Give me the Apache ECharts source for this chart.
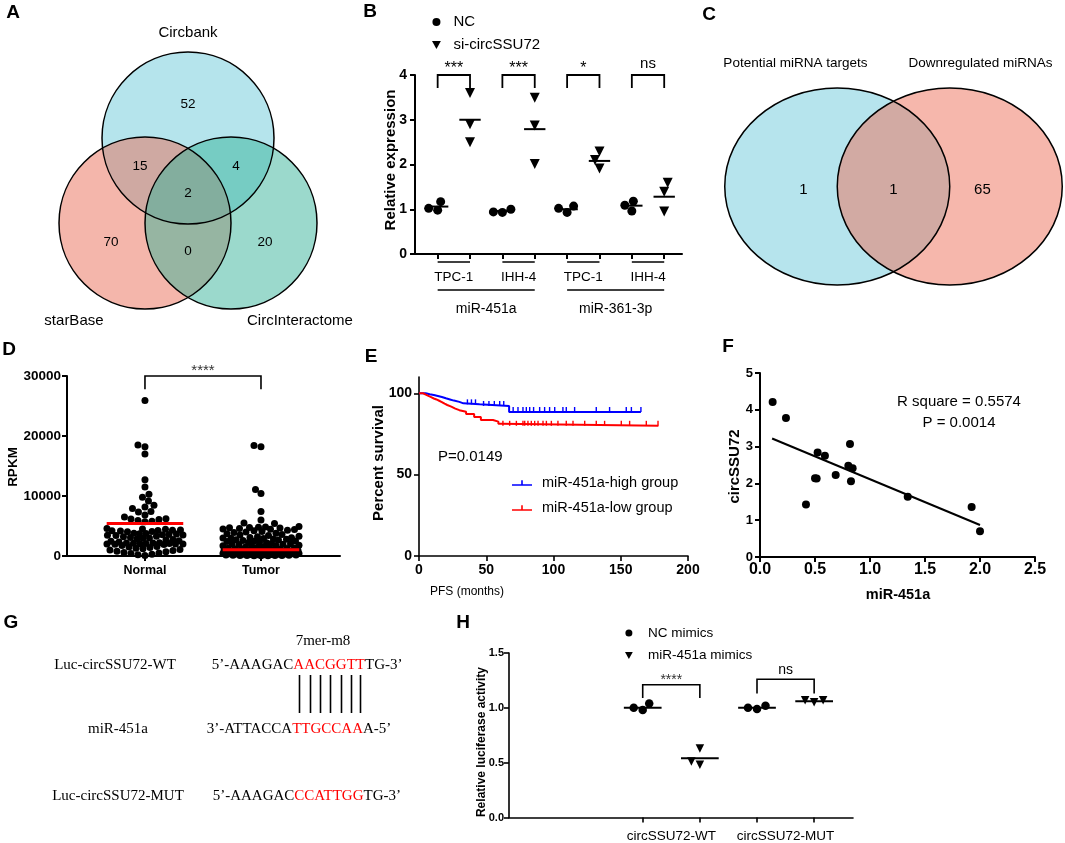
<!DOCTYPE html>
<html><head><meta charset="utf-8">
<script src="https://cdn.jsdelivr.net/npm/echarts@6.0.0/dist/echarts.min.js"></script>
<style>html,body{margin:0;padding:0;background:#fff}#c{width:1065px;height:843px}</style>
</head><body><div id="c"></div>
<script>
// ================= DATA =================
// A: Venn
const vennASets = ['Circbank', 'starBase', 'CircInteractome'];
const vennACounts = [52, 15, 4, 2, 70, 0, 20];
// C: Venn
const vennCSets = ['Potential miRNA targets', 'Downregulated miRNAs'];
const vennCCounts = [1, 1, 65];
// B: relative expression
const bLegend = ['NC', 'si-circSSU72'];
const bCells = ['TPC-1', 'IHH-4', 'TPC-1', 'IHH-4'];
const bGroups = ['miR-451a', 'miR-361-3p'];
const bNC = [[1.17, 0.98, 1.02], [1.00, 0.93, 0.94], [1.07, 0.93, 1.02], [1.18, 0.96, 1.09]];
const bSi = [[3.60, 2.90, 2.50], [3.49, 2.87, 2.01], [1.91, 2.29, 2.10], [1.59, 0.95, 1.39]];
const bMeanNC = [1.06, 0.96, 1.00, 1.08];
const bMeanSi = [3.00, 2.79, 2.08, 1.28];
const bSig = ['***', '***', '*', 'ns'];
// D: RPKM
const dCats = ['Normal', 'Tumor'];
const dNormal = [25900, 18500, 18200, 17000, 12700, 11500, 10300, 9800, 9150, 8450, 8150, 7900, 7400, 7350,
  6850, 6500, 6200, 6150, 6100, 5900, 5800, 5700,
  4600, 4500, 4450, 4350, 4300, 4250, 4200, 4150, 4100, 4050,
  3800, 3750, 3700, 3650, 3600, 3550, 3500, 3450, 3400, 3300, 3200, 3100, 3000, 2950, 2850, 2750, 2650, 2550, 2450, 2350,
  2200, 2180, 2150, 2120, 2100, 2080, 2050, 2020, 2000, 1980, 1950, 1920,
  1750, 1600, 1500, 1400, 1300, 1200, 1100, 1000, 900, 800, 700, 600, 500, 400, 300, 200, 100];
const dTumor = [18400, 18200, 11100, 10400, 7400, 6000, 5500, 5400,
  4900, 4850, 4800, 4750, 4700, 4650, 4600, 4500, 4450, 4400, 4300, 4200,
  4100, 4000, 3900, 3800, 3700, 3600, 3500, 3400, 3300, 3200, 3100, 3050, 3000, 2950,
  2900, 2850, 2800, 2700, 2650, 2600, 2500, 2450, 2400, 2300, 2250, 2200, 2100, 2050, 2000, 1950, 1900,
  1800, 1750, 1700, 1600, 1550, 1500, 1450, 1400, 1350, 1300, 1250, 1200, 1150, 1100, 1050,
  1000, 980, 950, 930, 900, 880, 850, 830, 800, 780, 760, 740, 720, 700, 680, 660, 640, 620, 600, 580,
  560, 540, 520, 500, 480, 460, 440, 420, 400, 380, 360, 340, 320, 300, 280, 260, 240, 220, 200, 180,
  160, 140, 120, 100, 90, 80, 70, 60, 50, 40];
const dLines = [5400, 1050];
const dSig = '****';
// E: Kaplan-Meier
const eNames = ['miR-451a-high group', 'miR-451a-low group'];
const eHighT = [0, 5, 8, 11, 14, 17, 20, 23, 26, 30, 33, 45, 67, 165];
const eHighS = [100, 99.4, 98.9, 98.3, 97.7, 96.9, 96.2, 95.5, 94.7, 93.8, 93.2, 92.2, 88.5, 88.5];
const eLowT = [0, 3, 5, 7, 9, 11, 13, 15, 17, 19, 21, 24, 27, 30, 35, 41, 46, 55, 59, 61, 178];
const eLowS = [100, 99.2, 98.4, 97.6, 96.8, 96.2, 95.4, 94.6, 93.6, 92.8, 91.8, 90.6, 89.6, 88.6, 87.2, 85.4, 83.6, 82.6, 81.2, 80, 80];
const eHighCens = [36, 39, 42, 48, 52, 56, 60, 63, 70, 73.6, 77.3, 79.8, 82.3, 85.2, 89.7, 93.4, 97.1, 100.9, 107, 109.5, 115.7, 131.8, 141.7, 154.1, 157.9, 165];
const eLowCens = [62.4, 67.4, 72.4, 77.3, 78.6, 81, 83.5, 86, 88.5, 92.2, 94.7, 98.4, 103.3, 109.5, 114.5, 123.2, 131.8, 138, 150.4, 156.6, 169, 177.7];
const eP = 'P=0.0149';
// F: correlation
const fX = [0.115, 0.236, 0.418, 0.50, 0.515, 0.524, 0.59, 0.688, 0.818, 0.803, 0.842, 0.827, 1.343, 1.924, 2.00];
const fY = [4.21, 3.78, 1.43, 2.14, 2.13, 2.84, 2.75, 2.23, 3.07, 2.48, 2.41, 2.06, 1.64, 1.36, 0.70];
const fFit = [[0.11, 3.22], [2.00, 0.87]];
const fStats = ['R square = 0.5574', 'P = 0.0014'];
// G: sequences
const gLabels = ['Luc-circSSU72-WT', 'miR-451a', 'Luc-circSSU72-MUT'];
const gSeqs = [['5\u2019-AAAGAC', 'AACGGTT', 'TG-3\u2019'], ['3\u2019-ATTACCA', 'TTGCCAA', 'A-5\u2019'], ['5\u2019-AAAGAC', 'CCATTGG', 'TG-3\u2019']];
const gSite = '7mer-m8';
// H: luciferase
const hLegend = ['NC mimics', 'miR-451a mimics'];
const hCats = ['circSSU72-WT', 'circSSU72-MUT'];
const hNC = [[1.04, 0.98, 1.00], [1.02, 0.99, 1.00]];
const hMi = [[0.63, 0.48, 0.51], [1.07, 1.05, 1.07]];
const hMeanNC = [1.00, 1.00];
const hMeanMi = [0.54, 1.06];
const hSig = ['****', 'ns'];

// ================= LAYOUT =================
const FONT = '"Liberation Sans", Arial, sans-serif';
const SERIF = '"Liberation Serif", "Times New Roman", serif';
const G = {
  A: {left: 16, top: 9, width: 344, height: 344},
  C: {left: 758.5, top: 68.3, width: 270, height: 236.4},
  B: {left: 415, top: 75, width: 267, height: 179},
  D: {left: 67, top: 376, width: 273, height: 180},
  E: {left: 419, top: 377, width: 269, height: 179},
  F: {left: 760, top: 373, width: 275, height: 184},
  H: {left: 509, top: 653, width: 344, height: 164.5}
};
const R = {B: [0.3, 8.55], D: [0.328, 2.681], H: [-1.34, 4.68]};
const vennACircles = [[0, 0.5, 1], [-0.5, -0.488, 1], [0.5, -0.488, 1]];
const vennAColors = ['rgba(107,201,217,0.5)', 'rgba(233,109,87,0.5)', 'rgba(55,179,153,0.5)'];
const vennANumPos = [[0, 0.895], [-0.558, 0.174], [0.558, 0.174], [0, -0.14], [-0.895, -0.709], [0, -0.814], [0.895, -0.709]];
const vennASetPos = [[0, 1.72], [-1.326, -1.628], [1.302, -1.628]];
const vennCCircles = [[-0.5, 0, 1], [0.5, 0, 1]];
const vennCColors = ['rgba(109,201,219,0.5)', 'rgba(237,111,89,0.5)'];
const vennCNumPos = [[-0.80, -0.036], [0, -0.036], [0.79, -0.036]];
const vennCSetPos = [[-0.872, 1.254], [0.774, 1.254]];

// ================= HELPERS =================
function swarm(values, center, pxY, pxX, diam, maxHalf) {
  const order = values.map((v, i) => i).sort((a, b) => values[a] - values[b] || a - b);
  const step = 0.5, n = Math.floor(maxHalf / step);
  const candP = [0], candN = [0];
  for (let k = 1; k <= n; k++) { candP.push(k * step, -k * step); candN.push(-k * step, k * step); }
  const placed = [], res = new Array(values.length);
  for (const i of order) {
    const y = values[i] * pxY;
    const cand = placed.length % 2 ? candN : candP;
    let chosen = null;
    for (const off of cand) {
      let ok = true;
      for (const q of placed) { const dx = q[0] - off, dy = q[1] - y; if (dx * dx + dy * dy < diam * diam) { ok = false; break; } }
      if (ok) { chosen = off; break; }
    }
    if (chosen === null) {
      let best = -1;
      for (const off of cand) {
        let m = Infinity;
        for (const q of placed) { const dx = q[0] - off, dy = q[1] - y; const d = dx * dx + dy * dy; if (d < m) m = d; }
        if (m > best + 1e-9) { best = m; chosen = off; }
      }
    }
    placed.push([chosen, y]);
    res[i] = [center + chosen / pxX, values[i]];
  }
  return res;
}
function stepAt(t, T, S) { let v = S[0]; for (let i = 0; i < T.length; i++) if (T[i] <= t) v = S[i]; return v; }

function axis(o) {
  const lw = o.lw || 2;
  const a = {
    type: 'value', gridIndex: o.grid, min: o.min, max: o.max,
    splitLine: {show: false},
    axisLine: {show: true, onZero: false, lineStyle: {color: '#000', width: lw}},
    axisTick: {show: true, inside: false, length: o.tickLen || 5, lineStyle: {color: '#000', width: lw}},
    axisLabel: {show: true, color: '#000', fontFamily: FONT, fontWeight: o.bold === false ? 'normal' : 'bold', fontSize: o.fs || 13, margin: o.margin || 7,
      formatter: v => String(v)},
    axisPointer: {show: false}
  };
  if (o.interval !== undefined) a.interval = o.interval;
  if (o.ticks) a.axisTick.customValues = o.ticks;
  if (o.labels) a.axisLabel.customValues = o.labels;
  if (o.fmt) a.axisLabel.formatter = o.fmt;
  return a;
}
function hidden(grid, min, max) { return {type: 'value', gridIndex: grid, min, max, show: false}; }

function vennSeries(grid, circles, colors, mode) {
  return {
    type: 'custom', xAxisIndex: grid, yAxisIndex: grid, clip: false, silent: true, z: mode === 'fill' ? 1 : 2,
    data: circles,
    renderItem: (p, api) => {
      const c = api.coord([api.value(0), api.value(1)]);
      const s = api.size([api.value(2), api.value(2)]);
      return {type: 'ellipse', shape: {cx: c[0], cy: c[1], rx: s[0], ry: s[1]},
        style: mode === 'fill' ? {fill: colors[p.dataIndex], stroke: null} : {fill: 'none', stroke: '#000', lineWidth: 1.5}};
    }
  };
}
function textSeries(grid, pts, texts, font) {
  return {
    type: 'custom', xAxisIndex: grid, yAxisIndex: grid, clip: false, silent: true, z: 5, data: pts,
    renderItem: (p, api) => {
      const c = api.coord([api.value(0), api.value(1)]);
      return {type: 'text', x: c[0], y: c[1], style: {text: String(texts[p.dataIndex]), font, fill: '#000',
        align: 'center', verticalAlign: 'middle', textAlign: 'center', textVerticalAlign: 'middle'}};
    }
  };
}
function meanSeries(grid, data, hw, color, lw) {
  return {
    type: 'custom', xAxisIndex: grid, yAxisIndex: grid, clip: false, silent: true, z: 4, data,
    renderItem: (p, api) => {
      const a = api.coord([api.value(0) - hw, api.value(1)]), b = api.coord([api.value(0) + hw, api.value(1)]);
      return {type: 'line', shape: {x1: a[0], y1: a[1], x2: b[0], y2: b[1]}, style: {stroke: color, lineWidth: lw}};
    }
  };
}
function bracketSeries(grid, data, labels, o) {
  return {
    type: 'custom', xAxisIndex: grid, yAxisIndex: grid, clip: false, silent: true, z: 5, data,
    renderItem: (p, api) => {
      const x1 = api.value(0), x2 = api.value(1), top = api.value(2), leg = api.value(3);
      const a = api.coord([x1, leg]), b = api.coord([x1, top]), c = api.coord([x2, top]), d = api.coord([x2, leg]);
      const lbl = labels[p.dataIndex];
      const star = /^\*+$/.test(lbl);
      return {type: 'group', children: [
        {type: 'polyline', shape: {points: [a, b, c, d]}, style: {stroke: '#000', lineWidth: o.lw, fill: 'none'}},
        {type: 'text', x: (b[0] + c[0]) / 2, y: b[1] + (star ? o.starOff : o.textOff),
          style: {text: lbl, font: (star ? o.starFont : o.textFont) + 'px ' + FONT, fill: star ? o.starColor : '#000',
            align: 'center', verticalAlign: 'middle', textAlign: 'center', textVerticalAlign: 'middle'}}
      ]};
    }
  };
}

// ================= BUILD =================
const pxYB = G.B.height / 4, pxXB = G.B.width / (R.B[1] - R.B[0]);
const pxYD = G.D.height / 30000, pxXD = G.D.width / (R.D[1] - R.D[0]);
const pxYH = G.H.height / 1.5, pxXH = G.H.width / (R.H[1] - R.H[0]);

const bNCpts = bNC.flatMap((v, g) => swarm(v, 2 * g + 1, pxYB, pxXB, 9, 12));
const bSipts = bSi.flatMap((v, g) => swarm(v, 2 * g + 2, pxYB, pxXB, 9.5, 12));
const bMeans = bMeanNC.map((m, g) => [2 * g + 1, m]).concat(bMeanSi.map((m, g) => [2 * g + 2, m]));
const bBrackets = bSig.map((s, g) => [2 * g + 1, 2 * g + 2, 4.0, 3.71]);
const bAnno = bCells.map((c, g) => [2 * g + 1, 2 * g + 2, 0]).concat(bGroups.map((c, k) => [4 * k + 1, 4 * k + 4, 1]));

const dPts = swarm(dNormal, 1, pxYD, pxXD, 6.8, 38).concat(swarm(dTumor, 2, pxYD, pxXD, 6.8, 38));
const hNCpts = hNC.flatMap((v, g) => swarm(v, 2 * g + 1, pxYH, pxXH, 9, 14));
const hMipts = hMi.flatMap((v, g) => swarm(v, 2 * g + 2, pxYH, pxXH, 9, 14));
const hMeans = hMeanNC.map((m, g) => [2 * g + 1, m]).concat(hMeanMi.map((m, g) => [2 * g + 2, m]));

const bLabelPos = [1.5, 3.5, 5.5, 7.5];
const hLabelPos = [1.5, 3.5];

const grids = [G.A, G.C, G.B, G.D, G.E, G.F, G.H].map(g => Object.assign({outerBoundsMode: 'none', containLabel: false, show: false}, g));

const xAxes = [
  hidden(0, -2, 2), hidden(1, -1.2, 1.2),
  axis({grid: 2, min: R.B[0], max: R.B[1], ticks: [1, 2, 3, 4, 5, 6, 7, 8], labels: bLabelPos, bold: false, fs: 13.5, margin: 16,
    fmt: v => bCells[bLabelPos.indexOf(v)] || ''}),
  axis({grid: 3, min: R.D[0], max: R.D[1], ticks: [1, 2], labels: [1, 2], fs: 12.5, margin: 8, fmt: v => dCats[v - 1] || ''}),
  axis({grid: 4, min: 0, max: 200, interval: 50, fs: 14, margin: 7, lw: 1.6}),
  axis({grid: 5, min: 0, max: 2.5, interval: 0.5, fs: 16, margin: 5, fmt: v => v.toFixed(1)}),
  axis({grid: 6, min: R.H[0], max: R.H[1], ticks: [1, 2, 3, 4], labels: hLabelPos, bold: false, fs: 13.5, margin: 12, lw: 1.6,
    fmt: v => hCats[hLabelPos.indexOf(v)] || ''})
];
const yAxes = [
  hidden(0, -2, 2), hidden(1, -1.2, 1.2),
  axis({grid: 2, min: 0, max: 4, interval: 1, fs: 14, margin: 8}),
  axis({grid: 3, min: 0, max: 30000, interval: 10000, fs: 13.5, margin: 6}),
  axis({grid: 4, min: 0, max: 110, ticks: [0, 50, 100], labels: [0, 50, 100], fs: 14, margin: 7, lw: 1.6}),
  axis({grid: 5, min: 0, max: 5, interval: 1, fs: 13, margin: 7}),
  axis({grid: 6, min: 0, max: 1.5, interval: 0.5, fs: 11, margin: 5, lw: 1.6, fmt: v => v.toFixed(1)})
];

const solid = c => ({color: c, opacity: 1});
const series = [
  // A
  vennSeries(0, vennACircles, vennAColors, 'fill'),
  vennSeries(0, vennACircles, vennAColors, 'stroke'),
  textSeries(0, vennANumPos, vennACounts, '13.5px ' + FONT),
  textSeries(0, vennASetPos, vennASets, '15px ' + FONT),
  // C
  vennSeries(1, vennCCircles, vennCColors, 'fill'),
  vennSeries(1, vennCCircles, vennCColors, 'stroke'),
  textSeries(1, vennCNumPos, vennCCounts, '15px ' + FONT),
  textSeries(1, vennCSetPos, vennCSets, '13.5px ' + FONT),
  // B
  {name: bLegend[0], type: 'scatter', xAxisIndex: 2, yAxisIndex: 2, data: bNCpts, symbol: 'circle', symbolSize: 9, itemStyle: solid('#000'), z: 3},
  {name: bLegend[1], type: 'scatter', xAxisIndex: 2, yAxisIndex: 2, data: bSipts, symbol: 'triangle', symbolRotate: 180, symbolSize: 10, itemStyle: solid('#000'), z: 3},
  meanSeries(2, bMeans, 0.33, '#000', 2),
  bracketSeries(2, bBrackets, bSig, {lw: 1.8, starOff: -6, textOff: -11, starFont: 16, textFont: 15, starColor: '#000'}),
  {
    type: 'custom', xAxisIndex: 2, yAxisIndex: 2, clip: false, silent: true, data: bAnno,
    renderItem: (p, api) => {
      const a = api.coord([api.value(0), 0]), b = api.coord([api.value(1), 0]);
      if (api.value(2) === 0) {
        return {type: 'line', shape: {x1: a[0], y1: a[1] + 8, x2: b[0], y2: b[1] + 8}, style: {stroke: '#000', lineWidth: 1.6}};
      }
      const k = p.dataIndex - bCells.length;
      return {type: 'group', children: [
        {type: 'line', shape: {x1: a[0], y1: a[1] + 36, x2: b[0], y2: b[1] + 36}, style: {stroke: '#000', lineWidth: 1.6}},
        {type: 'text', x: (a[0] + b[0]) / 2, y: a[1] + 55, style: {text: bGroups[k], font: '14px ' + FONT, fill: '#000',
          align: 'center', verticalAlign: 'middle', textAlign: 'center', textVerticalAlign: 'middle'}}
      ]};
    }
  },
  // D
  {type: 'scatter', xAxisIndex: 3, yAxisIndex: 3, data: dPts, symbol: 'circle', symbolSize: 7, itemStyle: solid('#000'), z: 3},
  meanSeries(3, dLines.map((v, i) => [i + 1, v]), 0.33, '#ff0000', 3),
  bracketSeries(3, [[1, 2, 30000, 27800]], [dSig], {lw: 1.6, starOff: -5, textOff: -10, starFont: 15, textFont: 14, starColor: '#333'}),
  // E
  {name: eNames[0], type: 'line', xAxisIndex: 4, yAxisIndex: 4, step: 'end', symbol: 'none', data: eHighT.map((t, i) => [t, eHighS[i]]),
    lineStyle: {color: '#0000ff', width: 2}, itemStyle: solid('#0000ff'), z: 3},
  {name: eNames[1], type: 'line', xAxisIndex: 4, yAxisIndex: 4, step: 'end', symbol: 'none', data: eLowT.map((t, i) => [t, eLowS[i]]),
    lineStyle: {color: '#ff0000', width: 2}, itemStyle: solid('#ff0000'), z: 3},
  {type: 'scatter', xAxisIndex: 4, yAxisIndex: 4, symbol: 'rect', symbolSize: [1.4, 5], symbolOffset: [0, -2.5], itemStyle: solid('#0000ff'), z: 4,
    data: eHighCens.map(t => [t, stepAt(t, eHighT, eHighS)])},
  {type: 'scatter', xAxisIndex: 4, yAxisIndex: 4, symbol: 'rect', symbolSize: [1.4, 5], symbolOffset: [0, -2.5], itemStyle: solid('#ff0000'), z: 4,
    data: eLowCens.map(t => [t, stepAt(t, eLowT, eLowS)])},
  // F
  {type: 'scatter', xAxisIndex: 5, yAxisIndex: 5, data: fX.map((x, i) => [x, fY[i]]), symbol: 'circle', symbolSize: 8, itemStyle: solid('#000'), z: 3},
  {type: 'line', xAxisIndex: 5, yAxisIndex: 5, data: fFit, symbol: 'none', lineStyle: {color: '#000', width: 2}, z: 2},
  // H
  {name: hLegend[0], type: 'scatter', xAxisIndex: 6, yAxisIndex: 6, data: hNCpts, symbol: 'circle', symbolSize: 8.5, itemStyle: solid('#000'), z: 3},
  {name: hLegend[1], type: 'scatter', xAxisIndex: 6, yAxisIndex: 6, data: hMipts, symbol: 'triangle', symbolRotate: 180, symbolSize: 8.5, itemStyle: solid('#000'), z: 3},
  meanSeries(6, hMeans, 0.33, '#000', 2),
  bracketSeries(6, [[1, 2, 1.21, 1.09], [3, 4, 1.26, 1.13]], hSig, {lw: 1.6, starOff: -4.5, textOff: -9.5, starFont: 14, textFont: 14, starColor: '#333'})
];

const triPath = 'path://M0,0 L10,0 L5,9 Z';
const kmIcon = 'path://M0,6 L20,6 L20,7.6 L0,7.6 Z M9.2,2 L10.8,2 L10.8,6 L9.2,6 Z';
const legends = [
  {left: 432, top: 14.5, orient: 'vertical', padding: 0, itemWidth: 24, itemHeight: 8, itemGap: 8, selectedMode: false,
    data: [{name: bLegend[0], icon: 'circle'}, {name: bLegend[1], icon: triPath}],
    textStyle: {fontSize: 15, fontFamily: FONT, color: '#000'}},
  {left: 512, top: 475.5, orient: 'vertical', padding: 0, itemWidth: 20, itemHeight: 6, itemGap: 10, selectedMode: false,
    data: [{name: eNames[0], icon: kmIcon}, {name: eNames[1], icon: kmIcon}],
    textStyle: {fontSize: 14.5, fontFamily: FONT, color: '#000', padding: [0, 0, 0, 5]}},
  {left: 625, top: 626, orient: 'vertical', padding: 0, itemWidth: 28, itemHeight: 7, itemGap: 8.5, selectedMode: false,
    data: [{name: hLegend[0], icon: 'circle'}, {name: hLegend[1], icon: triPath}],
    textStyle: {fontSize: 13.5, fontFamily: FONT, color: '#000'}}
];

// ---- graphic texts ----
function txt(t, x, y, font, opt) {
  opt = opt || {};
  return {type: 'text', x, y, rotation: opt.rot || 0, silent: true, z: 10,
    style: {text: t, font, fill: opt.fill || '#000', align: opt.align || 'center', verticalAlign: 'middle',
      textAlign: opt.align || 'center', textVerticalAlign: 'middle', rich: opt.rich}};
}
const graphics = [];
[['A', 13, 13], ['B', 370, 12], ['C', 709, 15], ['D', 9, 350], ['E', 371, 357], ['F', 728, 347], ['G', 11, 623], ['H', 463, 623]]
  .forEach(l => graphics.push(txt(l[0], l[1], l[2], 'bold 19px ' + FONT)));
const ROT = Math.PI / 2;
graphics.push(txt('Relative expression', 391, 160, 'bold 15px ' + FONT, {rot: ROT}));
graphics.push(txt('RPKM', 13, 467, 'bold 13.5px ' + FONT, {rot: ROT}));
graphics.push(txt('Percent survival', 378.5, 463, 'bold 15px ' + FONT, {rot: ROT}));
graphics.push(txt('circSSU72', 735, 466.5, 'bold 15px ' + FONT, {rot: ROT}));
graphics.push(txt('Relative luciferase activity', 482, 742, 'bold 12px ' + FONT, {rot: ROT}));
graphics.push(txt('PFS (months)', 467, 592, '12px ' + FONT));
graphics.push(txt('miR-451a', 898, 595, 'bold 14.5px ' + FONT));
graphics.push(txt(eP, 438, 457, '15px ' + FONT, {align: 'left'}));
graphics.push(txt(fStats[0], 959, 402, '15px ' + FONT));
graphics.push(txt(fStats[1], 959, 423, '15px ' + FONT));

// ---- G panel ----
const gFont = '15px ' + SERIF;
const gLabelPos = [[115, 665], [118, 729], [118, 796]];
const gSeqLeft = [211.7, 206.7, 212.7];
gLabels.forEach((l, i) => graphics.push(txt(l, gLabelPos[i][0], gLabelPos[i][1], gFont)));
gSeqs.forEach((s, i) => {
  graphics.push(txt('{k|' + s[0] + '}{r|' + s[1] + '}{k|' + s[2] + '}', gSeqLeft[i], gLabelPos[i][1], gFont, {align: 'left',
    rich: {k: {fill: '#000', color: '#000', font: gFont}, r: {fill: '#ff0000', color: '#ff0000', font: gFont}}}));
});
graphics.push(txt(gSite, 323, 641, gFont));
const ctx = document.createElement('canvas').getContext('2d');
ctx.font = gFont;
let gx = gSeqLeft[0] + ctx.measureText(gSeqs[0][0]).width;
for (const ch of gSeqs[0][1]) {
  const w = ctx.measureText(ch).width;
  const cx = Math.round(gx + w / 2) + 0.5;
  graphics.push({type: 'line', silent: true, shape: {x1: cx, y1: 675, x2: cx, y2: 713}, style: {stroke: '#000', lineWidth: 1.6}});
  gx += w;
}

const chart = echarts.init(document.getElementById('c'), null, {renderer: 'canvas'});
chart.setOption({
  animation: false,
  backgroundColor: '#fff',
  grid: grids,
  xAxis: xAxes,
  yAxis: yAxes,
  legend: legends,
  series,
  graphic: {elements: graphics}
});
</script>
</body></html>
